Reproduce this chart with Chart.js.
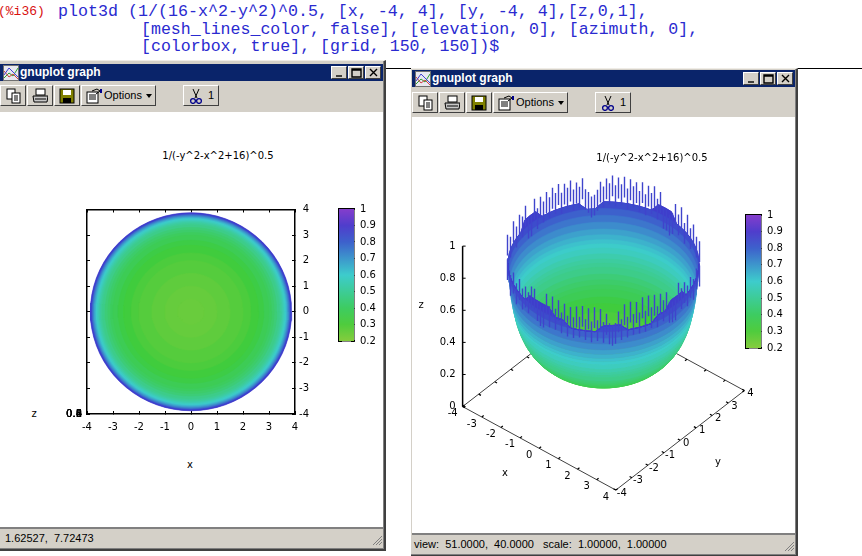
<!DOCTYPE html>
<html>
<head>
<meta charset="utf-8">
<title>gnuplot graph</title>
<script src="https://cdn.jsdelivr.net/npm/chart.js@4/dist/chart.umd.min.js"></script>
<style>
  html, body { margin: 0; padding: 0; background: #fff; overflow: hidden; }
  body { width: 862px; height: 556px; position: relative; font-family: "DejaVu Sans", sans-serif; font-size: 10px; color: #000; }
  .abs { position: absolute; white-space: pre; }
  .cmd { position: absolute; white-space: pre; font-family: "Liberation Mono", monospace; font-size: 16.67px; color: #2a2ad0; line-height: 18px; }
  .lbl { position: absolute; white-space: pre; transform: translate(-50%, -50%); line-height: 12px; }
  .win { position: absolute; background: #d4d0c8; border-right: 2px solid #404040; border-bottom: 2px solid #404040; border-top: 1px solid #efece6; box-shadow: inset -1px -1px 0 #808080; }
  .titlebar { position: absolute; background: #0a246a; color: #fff; font-family: "Liberation Sans", sans-serif; font-weight: bold; font-size: 12px; line-height: 17px; }
  .winbtn { position: absolute; width: 16px; height: 13px; background: #d4d0c8; border: 1px solid; border-color: #fff #404040 #404040 #fff; box-sizing: border-box; }
  .tool { position: absolute; height: 21px; background: #d4d0c8; border: 1px solid; border-color: #fff #404040 #404040 #fff; box-sizing: border-box; line-height: 19px; font-family: "Liberation Sans", sans-serif; font-size: 11px; }
  .white { position: absolute; background: #fff; }
  .status { position: absolute; background: #d4d0c8; border-top: 2px solid #808080; box-sizing: border-box; font-family: "Liberation Sans", sans-serif; font-size: 11px; line-height: 18px; white-space: pre; }
  canvas { position: absolute; }
</style>
</head>
<body>
<div class="abs" style="left:-2px;top:4px;font-family:'Liberation Mono',monospace;font-size:13px;color:#d81010;">(%i36)</div>
<div class="cmd" style="left:58px;top:3px;">plot3d (1/(16-x^2-y^2)^0.5, [x, -4, 4], [y, -4, 4],[z,0,1],</div>
<div class="cmd" style="left:141px;top:21px;font-size:16.58px;">[mesh_lines_color, false], [elevation, 0], [azimuth, 0],</div>
<div class="cmd" style="left:141px;top:38px;font-size:16.58px;">[colorbox, true], [grid, 150, 150])$</div>
<div style="position:absolute;left:380px;top:68px;width:482px;height:1px;background:#000;"></div>

<script>
// Surface rings: radius in x/y units and the height at it
const ringR = [0, 0.5, 1, 1.5, 2, 2.3, 2.6, 2.8, 3, 3.1, 3.2, 3.3, 3.4, 3.45, 3.5, 3.55, 3.6, 3.63, 3.66, 3.69, 3.72, 3.75, 3.78, 3.8, 3.82, 3.84, 3.855, 3.873];
const ringZ = [0.25, 0.252, 0.258, 0.27, 0.289, 0.306, 0.329, 0.35, 0.378, 0.395, 0.417, 0.442, 0.475, 0.495, 0.516, 0.543, 0.574, 0.597, 0.62, 0.648, 0.68, 0.72, 0.76, 0.8, 0.84, 0.89, 0.94, 1];

// Height of the solid rim every 5 degrees around the bowl, far side then near side
const rimBack = [0.86, 0.84, 0.86, 0.87, 0.86, 0.86, 0.87, 0.87, 0.87, 0.93, 0.9, 0.93, 0.87, 0.86, 0.85, 0.84, 0.84, 0.85, 0.84, 0.81, 0.83, 0.85, 0.86, 0.86, 0.87, 0.87, 0.87, 0.93, 0.9, 0.93, 0.88, 0.88, 0.87, 0.88, 0.87, 0.85, 0.86];
const rimFront = [0.86, 0.84, 0.86, 0.87, 0.86, 0.87, 0.87, 0.87, 0.93, 0.91, 0.89, 0.92, 0.86, 0.84, 0.83, 0.82, 0.82, 0.83, 0.84, 0.84, 0.84, 0.83, 0.82, 0.82, 0.82, 0.84, 0.87, 0.93, 0.91, 0.93, 0.87, 0.87, 0.86, 0.87, 0.86, 0.84, 0.86];

// Top of the spikes that stick out of the rim, one per grid column left to right
const spikeBackZ = [0.97, 0.9, 0.96, 0.9, 0.95, 0.92, 0.97, 0.88, 0.88, 0.97, 0.9, 0.96, 0.92, 0.97, 0.93, 0.98, 0.94, 0.99, 0.93, 0.98, 0.95, 0.99, 0.93, 0.97, 0.94, 0.99, 0.92, 0.9, 0.87, 0.88, 0.91, 0.96, 0.93, 0.98, 0.95, 1, 0.94, 0.99, 0.95, 1, 0.93, 0.99, 0.95, 0.98, 0.93, 0.99, 0.92, 0.98, 0.94, 0.99, 0.92, 0.97, 0.88, 0.88, 0.86, 0.88, 0.95, 0.9, 0.96, 0.88, 0.95, 0.89, 0.94, 0.9, 0.93];
const spikeFrontZ = [0.92, 0.88, 0.93, 0.89, 0.94, 0.9, 0.93, 0.91, 0.96, 0.96, 0.9, 0.88, 0.88, 0.97, 0.9, 0.97, 0.9, 0.96, 0.89, 0.95, 0.88, 0.94, 0.88, 0.95, 0.89, 0.96, 0.88, 0.95, 0.87, 0.96, 0.88, 0.95, 0.87, 0.92, 0.86, 0.85, 0.86, 0.93, 0.88, 0.97, 0.89, 0.98, 0.9, 0.97, 0.9, 0.99, 0.9, 0.99, 0.91, 0.98, 0.9, 0.97, 0.92, 0.96, 0.89, 0.88, 0.88, 0.97, 0.92, 0.94, 0.9, 0.93, 0.89, 0.92, 0.88];

// Tick labels
const xyTicks = [-4, -3, -2, -1, 0, 1, 2, 3, 4];
const zTicks = [0, 0.2, 0.4, 0.6, 0.8, 1];

const FONT = { family: "'DejaVu Sans', sans-serif", size: 10 };
const AXIS_LINE = "#404040";

// maxima palette: hue runs from 90 to 270 over the colorbar range 0.2 .. 1
const zColor = (z) => `hsl(${90 + 180 * (z - 0.2) / 0.8}, 58.3%, 52%)`;
// the grid cells at the edge average out, the surface never gets to the purple end
const ringColor = (z) => zColor(Math.min(z, 0.87));

// ---------- window chrome ----------
function iconSvg(kind) {
  const shapes = {
    copy: '<rect x="2" y="1" width="8" height="10" fill="#fff" stroke="#000"/><rect x="7" y="5" width="8" height="10" fill="#fff" stroke="#000"/><path d="M9 8h4M9 10h4M9 12h4" stroke="#000"/>',
    print: '<rect x="4" y="1" width="9" height="6" fill="#fff" stroke="#000"/><path d="M1 8h15l-1 6H2z" fill="#c8c8c8" stroke="#000"/><path d="M3 11h11" stroke="#000"/>',
    save: '<rect x="1" y="1" width="14" height="14" fill="#808000" stroke="#000"/><rect x="4" y="2" width="8" height="5" fill="#fff"/><rect x="4" y="10" width="8" height="5" fill="#000"/>',
    options: '<rect x="1" y="4" width="11" height="11" fill="#fff" stroke="#000"/><path d="M3 7h7M3 9h7M3 11h7M6 3l5-2 3 2-4 3" fill="none" stroke="#000"/><rect x="14" y="1" width="2" height="4" fill="#00008b"/>',
    cut: '<path d="M5 1l4 9M11 1l-4 9" stroke="#000" fill="none"/><circle cx="5" cy="13" r="2.4" fill="none" stroke="#00008b" stroke-width="1.3"/><circle cx="11" cy="13" r="2.4" fill="none" stroke="#00008b" stroke-width="1.3"/>',
    app: '<rect x="0.5" y="0.5" width="15" height="15" fill="#e8e8f0" stroke="#707070"/><path d="M1 13l5-5 4 3 5-8" stroke="#30a030" fill="none"/><path d="M1 6l5 6 4-3 5 5" stroke="#d04040" fill="none"/><path d="M1 10l5-7 9 9" stroke="#4040d0" fill="none"/>',
  };
  return `<svg width="16" height="16" style="position:absolute;left:4px;top:2px;">${shapes[kind]}</svg>`;
}

function addWindow(w) {
  const html = [];
  html.push(`<div class="win" style="left:${w.frameX}px;top:${w.frameY}px;width:${w.frameW}px;height:${w.frameH}px;"></div>`);
  html.push(`<div class="titlebar" style="left:${w.x}px;top:${w.titleY}px;width:383px;height:17px;"><svg width="16" height="16" style="position:absolute;left:3px;top:1px;">${iconSvg("app").replace(/^<svg[^>]*>|<\/svg>$/g, "")}</svg><span style="position:absolute;left:20px;">gnuplot graph</span></div>`);
  [331, 348, 365].forEach((bx, i) => {
    const glyph = ["M4 9h6", "M3 2h9v8H3zM3 3h9", "M4 2l7 7M11 2l-7 7"][i];
    html.push(`<div class="winbtn" style="left:${w.x + bx}px;top:${w.titleY + 2}px;"><svg width="14" height="11" style="position:absolute;left:0;top:0;"><path d="${glyph}" stroke="#000" stroke-width="1.4" fill="none"/></svg></div>`);
  });
  const tools = [[0, 26, "copy"], [27, 26, "print"], [54, 26, "save"], [81, 75, "options"], [183, 36, "cut"]];
  tools.forEach(([bx, bw, kind]) => {
    let extra = "";
    if (kind === "options") extra = '<span style="position:absolute;left:22px;">Options</span><span style="position:absolute;right:3px;top:8px;width:0;height:0;border:3px solid transparent;border-top:4px solid #000;"></span>';
    if (kind === "cut") extra = '<span style="position:absolute;left:24px;">1</span>';
    const icon = iconSvg(kind);
    html.push(`<div class="tool" style="left:${w.x + bx}px;top:${w.toolY}px;width:${bw}px;">${icon}${extra}</div>`);
  });
  html.push(`<div class="white" style="left:${w.x}px;top:${w.whiteY}px;width:383px;height:${w.statusY - w.whiteY}px;"></div>`);
  html.push(`<div class="status" style="left:${w.x}px;top:${w.statusY}px;width:383px;height:20px;padding-left:${w.statusPad}px;">${w.status}</div>`);
  html.push(`<svg width="12" height="12" style="position:absolute;left:${w.x + 371}px;top:${w.statusY + 7}px;"><path d="M11 2L2 11M11 5L5 11M11 8L8 11" stroke="#808080" fill="none"/></svg>`);
  document.body.insertAdjacentHTML("beforeend", html.join(""));
}

function addLabel(text, x, y) {
  const el = document.createElement("div");
  el.className = "lbl";
  el.style.left = x + "px";
  el.style.top = y + "px";
  el.textContent = text;
  document.body.appendChild(el);
}

function addCanvas(id, left, top, width, height) {
  const c = document.createElement("canvas");
  c.id = id;
  c.width = width;
  c.height = height;
  c.style.left = left + "px";
  c.style.top = top + "px";
  c.style.width = width + "px";
  c.style.height = height + "px";
  document.body.appendChild(c);
  return c;
}

addWindow({ x: 0, frameX: -4, frameY: 60, frameW: 388, frameH: 488, titleY: 64, toolY: 85, whiteY: 112, statusY: 527, statusPad: 5, status: "1.62527,  7.72473" });
addWindow({ x: 412, frameX: 411, frameY: 68, frameW: 385, frameH: 486, titleY: 70, toolY: 92, whiteY: 117, statusY: 533, statusPad: 2, status: "view:  51.0000,  40.0000   scale:  1.00000,  1.00000" });

// ---------- shared bits ----------
Chart.defaults.font.family = FONT.family;
Chart.defaults.font.size = FONT.size;
Chart.defaults.color = "#000";
Chart.defaults.animation = false;

const fixSize = (prop, size) => (scale) => { scale[prop] = size; };

// Axis with inward tick marks; the mirror axes have no labels and no room
function boxAxis(position, min, max, step, size, showLabels, padding, crossAlign) {
  const horizontal = position === "top" || position === "bottom";
  return {
    type: "linear",
    position, min, max,
    z: 1,
    border: { color: "#000", width: 1.5 },
    grid: { drawOnChartArea: false, tickLength: -3, tickColor: "#000" },
    ticks: {
      display: showLabels,
      stepSize: step,
      autoSkip: false,
      maxRotation: 0,
      padding,
      crossAlign: crossAlign || "near",
      callback: (v) => String(+v.toFixed(1)),
    },
    afterFit: fixSize(horizontal ? "height" : "width", size),
  };
}

// Filled closed outline, used for the rings of both plots
function shapeDataset(points, color) {
  return { data: points, showLine: true, fill: "shape", backgroundColor: color, borderColor: color, borderWidth: 0.6, pointRadius: 0, tension: 0 };
}

const ANGLE_STEPS = rimBack.length + rimFront.length - 2;

// ---------- left window: top view of the surface ----------
// one disc per ring; first dataset is drawn on top, so the smallest goes first
const mapDatasets = ringR.slice(1).map((r, n) => {
  const pts = [];
  for (let j = 0; j <= ANGLE_STEPS; j++) {
    const phi = j * 2 * Math.PI / ANGLE_STEPS;
    pts.push({ x: r * Math.cos(phi), y: r * Math.sin(phi) });
  }
  return shapeDataset(pts, ringColor(ringZ[n + 1]));
});

// canvas right edge is the right edge of the y labels, they are right aligned
const leftCanvas = addCanvas("leftMap", 40, 195, 269, 245);
new Chart(leftCanvas, {
  type: "scatter",
  data: { datasets: mapDatasets },
  options: {
    responsive: false,
    events: [],
    layout: { autoPadding: false, padding: { left: 47, top: 14.5, right: 0, bottom: 0 } },
    plugins: { legend: { display: false }, tooltip: { enabled: false } },
    scales: {
      x: boxAxis("bottom", -4, 4, 1, 26, true, 10),
      x2: boxAxis("top", -4, 4, 1, 0, false, 0),
      y: boxAxis("right", -4, 4, 1, 14, true, 7, "far"),
      y2: boxAxis("left", -4, 4, 1, 0, false, 0),
    },
  },
});

// The z axis collapses in the top view, its labels all print on one spot
addLabel("1/(-y^2-x^2+16)^0.5", 218, 156);
addLabel("x", 190, 465);
addLabel("z", 34, 414);
zTicks.forEach((z) => {
  const el = document.createElement("div");
  el.className = "abs";
  el.style.right = (862 - 82) + "px";
  el.style.top = "408px";
  el.style.lineHeight = "12px";
  el.textContent = String(z);
  document.body.appendChild(el);
});

// ---------- colorbars ----------
function makeColorbar(id, left, top, right, bottom) {
  const canvas = addCanvas(id, left - 5, top - 18, right - left + 40, bottom - top + 36);
  const span = [[0.2, 1]];
  return new Chart(canvas, {
    type: "bar",
    data: {
      labels: [""],
      datasets: [{
        data: span,
        barPercentage: 1,
        categoryPercentage: 1,
        backgroundColor: (c) => {
          const area = c.chart.chartArea;
          if (!area) return "#000";
          const sy = c.chart.scales.y;
          const g = c.chart.ctx.createLinearGradient(0, sy.getPixelForValue(0.2), 0, sy.getPixelForValue(1));
          for (let i = 0; i <= 8; i++) g.addColorStop(i / 8, zColor(0.2 + i * 0.1));
          return g;
        },
      }],
    },
    options: {
      responsive: false,
      events: [],
      layout: { autoPadding: false, padding: { left: 5, top: 18, right: 0, bottom: 18 } },
      plugins: { legend: { display: false }, tooltip: { enabled: false } },
      scales: {
        x: {
          type: "category",
          border: { color: "#000", width: 1.5 },
          grid: { display: false },
          ticks: { display: false },
          afterFit: fixSize("height", 0),
        },
        x2: {
          type: "category",
          position: "top",
          labels: [""],
          border: { color: "#000", width: 1.5 },
          grid: { display: false },
          ticks: { display: false },
          afterFit: fixSize("height", 0),
        },
        y: boxAxis("right", 0.2, 1, 0.1, 35, true, 9),
        y2: boxAxis("left", 0.2, 1, 0.1, 0, false, 0),
      },
    },
  });
}
makeColorbar("cbLeft", 339, 209, 354, 341);
makeColorbar("cbRight", 746, 215, 761, 348);

// ---------- right window: the 3d view ----------
const VIEW_Z = 40 * Math.PI / 180;
const VIEW_X = 51 * Math.PI / 180;
const COS_X = Math.cos(VIEW_X);
const Z_STRETCH = 8 * Math.sin(VIEW_X);

// gnuplot projection of a data point onto the page plane
function project(x, y, z) {
  return {
    x: x * Math.cos(VIEW_Z) + y * Math.sin(VIEW_Z),
    y: (-x * Math.sin(VIEW_Z) + y * Math.cos(VIEW_Z)) * COS_X + z * Z_STRETCH,
  };
}

const rimZ = rimBack.concat(rimFront.slice(1, -1));
const STEPS = rimZ.length;

// Point of ring i at angle step j; rings above the rim there stay on the rim
function ringPoint(i, j) {
  const idx = ((j % STEPS) + STEPS) % STEPS;
  let k = i;
  while (k > 0 && ringZ[k] > rimZ[idx]) k--;
  const phi = idx * 2 * Math.PI / STEPS;
  return {
    x: ringR[k] * Math.cos(phi),
    y: ringR[k] * Math.sin(phi) * COS_X + ringZ[k] * Z_STRETCH,
  };
}

const layers = [];

function addLine(points, color, width) {
  layers.push({ data: points, showLine: true, fill: false, borderColor: color, borderWidth: width, pointRadius: 0, spanGaps: false });
}
function addShape(points, color) {
  layers.push(shapeDataset(points, color));
}

// base frame and its ticks go in first so the bowl hides them
const corners = [[-4, -4], [4, -4], [4, 4], [-4, 4], [-4, -4]];
addLine(corners.map(([x, y]) => project(x, y, 0)), AXIS_LINE, 1);
const tickPts = [];
xyTicks.forEach((t) => {
  [[t, -4, 0, 0.12], [t, 4, 0, -0.12], [-4, t, 0.12, 0], [4, t, -0.12, 0]].forEach(([x, y, dx, dy]) => {
    tickPts.push(project(x, y, 0), project(x + dx, y + dy, 0), { x: null, y: null });
  });
});
addLine(tickPts, "#000", 1.2);

// inside of the bowl: discs from the rim down to the bottom
for (let i = ringR.length - 1; i >= 0; i--) {
  const pts = [];
  for (let j = 0; j < STEPS; j++) pts.push(ringPoint(i, j));
  pts.push(pts[0]);
  addShape(pts, ringColor(ringZ[i]));
}

// near wall from the silhouette up to the rim, bands drawn over each other
const firstWallRing = ringR.indexOf(2.6);
for (let i = firstWallRing; i < ringR.length - 1; i++) {
  const outer = [];
  const inner = [];
  for (let j = STEPS / 2; j <= STEPS; j++) {
    outer.push(ringPoint(i + 1, j));
    inner.unshift(ringPoint(i, j));
  }
  const pts = outer.concat(inner);
  pts.push(pts[0]);
  addShape(pts, ringColor(ringZ[i + 1]));
}

// spikes on the rim, columns 0.12 apart across the page
function spikeLine(values, side) {
  const pts = [];
  values.forEach((z, k) => {
    const u = -3.84 + 0.12 * k;
    const v = side * Math.sqrt(Math.max(0, 3.873 * 3.873 - u * u)) * COS_X;
    pts.push({ x: u, y: v + (z - 0.13) * Z_STRETCH }, { x: u, y: v + z * Z_STRETCH }, { x: null, y: null });
  });
  return pts;
}
addLine(spikeLine(spikeBackZ, 1), "#3f44cc", 1.4);
addLine(spikeLine(spikeFrontZ, -1), "#3f44cc", 1.4);

// z axis stands at the (-4, -4) corner
addLine([project(-4, -4, 0), project(-4, -4, 1)], "#000", 1.5);

const axisLabels = {
  id: "axisLabels",
  afterDatasetsDraw(chart) {
    const { ctx, scales } = chart;
    const px = (p) => ({ x: scales.x.getPixelForValue(p.x), y: scales.y.getPixelForValue(p.y) });
    ctx.save();
    ctx.font = `${FONT.size}px ${FONT.family}`;
    ctx.fillStyle = "#000";
    ctx.textBaseline = "middle";

    ctx.textAlign = "center";
    xyTicks.forEach((t) => {
      const a = px(project(t, -4, 0));
      ctx.fillText(String(t), a.x - 10, a.y + 7);
      const b = px(project(4, t, 0));
      ctx.fillText(String(t), b.x + 6, b.y + 3);
    });

    ctx.textAlign = "right";
    ctx.strokeStyle = "#000";
    zTicks.forEach((z) => {
      const a = px(project(-4, -4, z));
      ctx.fillText(String(z), a.x - 7, a.y);
      ctx.beginPath();
      ctx.moveTo(a.x, a.y);
      ctx.lineTo(a.x + 3, a.y);
      ctx.stroke();
    });
    ctx.restore();
  },
};

const rightCanvas = addCanvas("rightView", 412, 117, 383, 415);
new Chart(rightCanvas, {
  type: "scatter",
  data: { datasets: layers.slice().reverse() }, // first dataset is drawn on top
  options: {
    responsive: false,
    events: [],
    layout: { autoPadding: false, padding: 0 },
    plugins: { legend: { display: false }, tooltip: { enabled: false } },
    scales: {
      x: { type: "linear", display: false, min: -7.66, max: 7.66 },
      y: { type: "linear", display: false, min: -5.17, max: 10.91 },
    },
  },
  plugins: [axisLabels],
});

addLabel("1/(-y^2-x^2+16)^0.5", 652, 158);
addLabel("x", 505, 473);
addLabel("y", 718, 462);
addLabel("z", 421, 305);
</script>
</body>
</html>
